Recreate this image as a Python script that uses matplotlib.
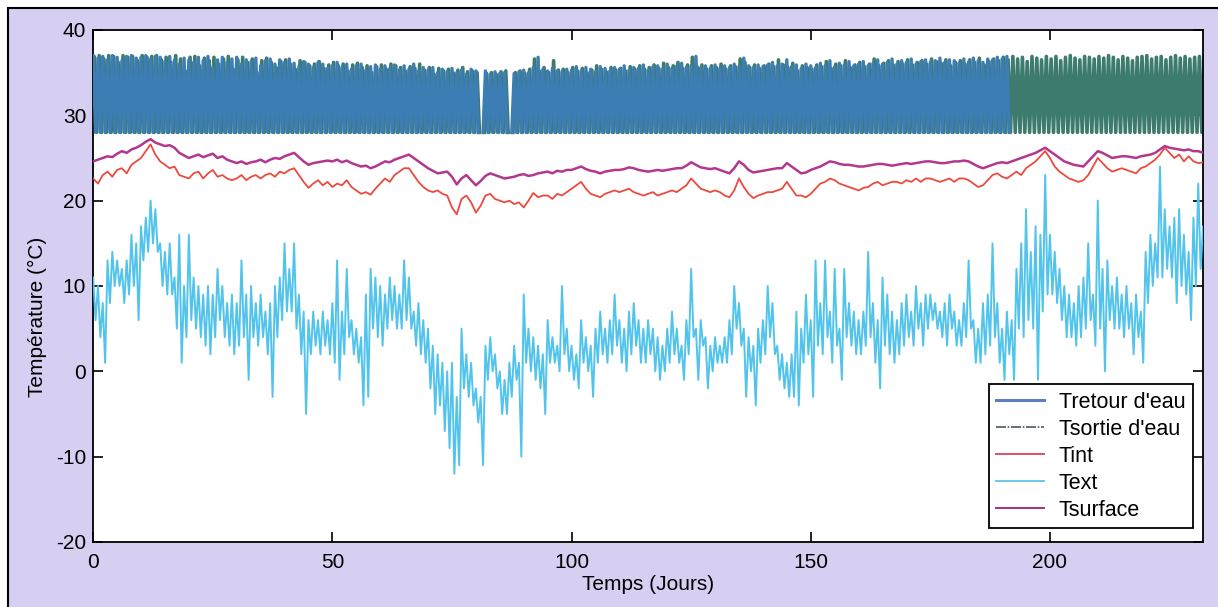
import numpy as np
import matplotlib
matplotlib.use("Agg")
import matplotlib.pyplot as plt
from matplotlib.patches import Rectangle

nan = np.nan

# daily maxima of the water temperature (the minimum sits on 28 degC)
tsortie_max = [
    36.8, 37.0, 36.6, 37.0, 36.9, 36.2, 37.0, 36.8, 36.9, 36.4,
    37.0, 36.8, 36.9, 37.0, 36.5, 36.8, 36.2, 37.0, 36.6, 35.2,
    36.8, 36.9, 35.8, 36.7, 36.4, 36.8, 36.0, 36.6, 36.9, 35.4,
    36.5, 36.8, 36.2, 36.6, 35.0, 36.4, 36.7, 36.2, 35.6, 36.3,
    36.5, 36.0, 35.4, 36.4, 36.2, 35.8, 36.0, 36.3, 35.5, 35.9,
    36.2, 35.8, 36.0, 35.2, 35.9, 36.1, 35.6, 35.8, 35.0, 35.7,
    35.9, 35.4, 36.0, 35.8, 35.6, 35.2, 35.7, 35.5, 36.0, 35.3,
    35.6, 34.8, 35.5, 35.2, 35.4, 35.0, 35.3, 35.6, 35.1, 35.2,
    35.0, nan, 34.9, 35.0, 34.8, 35.1, 35.2, nan, 35.0, 35.2,
    34.9, 35.4, 36.6, 35.2, 35.6, 35.0, 36.4, 35.3, 35.4, 35.0,
    35.6, 35.2, 35.5, 35.0, 35.3, 35.8, 35.4, 35.1, 35.6, 35.3,
    35.5, 35.2, 35.7, 35.4, 35.8, 35.4, 35.6, 35.9, 35.5, 36.1,
    35.6, 35.8, 36.2, 35.5, 35.9, 36.8, 35.7, 35.9, 35.4, 35.8,
    35.6, 36.0, 35.4, 35.8, 35.7, 36.6, 36.2, 35.6, 35.9, 35.5,
    35.8, 36.0, 35.7, 36.5, 35.9, 35.6, 36.1, 35.2, 35.8, 35.6,
    35.4, 35.9, 35.7, 36.3, 35.5, 36.0, 35.8, 36.4, 35.6, 35.9,
    36.2, 35.7, 36.0, 36.6, 35.8, 36.1, 36.4, 35.9, 36.3, 36.0,
    36.5, 35.9, 36.2, 36.4, 36.0, 36.6, 36.3, 36.1, 36.5, 35.8,
    36.2, 36.4, 36.0, 36.5, 36.2, 36.7, 35.9, 36.3, 36.6, 36.4,
    36.8, 36.5, 36.9, 36.6, 36.8, 36.3, 36.9, 36.7, 36.5, 36.9,
    36.6, 36.9, 36.4, 36.8, 37.0, 36.7, 36.5, 36.9, 36.8, 36.6,
    36.9, 36.7, 37.0, 36.8, 36.5, 36.9, 36.7, 36.4, 36.8, 36.9,
    37.0, 36.6, 36.8, 36.9, 36.5, 36.8, 37.0, 36.7, 36.9, 36.6,
    36.8, 36.9, 36.7,
]
tretour_max = [
    37.0, 36.7, 36.9, 36.5, 37.0, 36.8, 36.4, 36.9, 37.0, 36.7,
    36.8, 37.0, 36.6, 36.9, 36.8, 36.3, 36.9, 36.5, 36.0, 36.7,
    36.5, 36.2, 36.8, 36.4, 36.9, 35.6, 36.5, 36.8, 36.2, 36.6,
    36.8, 36.0, 36.5, 36.3, 36.7, 35.8, 36.4, 36.6, 36.0, 36.5,
    36.2, 36.6, 36.1, 35.7, 36.3, 36.0, 35.6, 36.2, 36.0, 35.5,
    35.8, 36.2, 35.6, 36.0, 35.4, 35.8, 36.0, 35.3, 35.7, 35.9,
    35.4, 35.8, 35.5, 35.9, 35.3, 35.8, 35.4, 36.0, 35.2, 35.6,
    35.3, 35.6, 35.0, 35.4, 35.1, 35.5, 35.0, 35.3, 34.8, 35.4,
    35.2, nan, 35.2, 34.8, 35.1, 34.9, 35.0, nan, 34.9, 35.1,
    35.3, 35.0, 35.6, 36.8, 35.4, 35.2, 35.5, 35.2, 35.1, 35.4,
    35.3, 35.7, 35.2, 35.6, 35.4, 35.1, 35.7, 35.5, 35.2, 35.6,
    35.4, 35.8, 35.3, 35.6, 35.5, 35.9, 35.3, 35.7, 35.8, 35.4,
    36.0, 35.5, 35.8, 36.1, 35.6, 35.8, 36.9, 35.6, 35.8, 35.5,
    35.9, 35.5, 35.8, 35.6, 36.0, 35.7, 36.7, 35.8, 35.6, 35.9,
    35.7, 35.9, 36.2, 35.8, 36.0, 36.5, 35.7, 35.9, 35.5, 36.0,
    35.8, 35.6, 36.1, 35.8, 36.4, 35.7, 36.1, 35.9, 36.3, 35.8,
    36.0, 36.3, 35.8, 36.1, 36.5, 36.0, 36.2, 36.6, 36.0, 36.4,
    36.2, 36.6, 36.0, 36.3, 36.5, 36.2, 36.4, 36.7, 36.2, 36.5,
    36.4, 36.1, 36.6, 36.3, 36.7, 36.4, 36.2, 36.6, 36.5, 36.8,
    36.6, 36.9,
]
eau_min = 28.0

tsurface = [
    24.6, 24.8, 25.0, 25.2, 25.1, 25.5, 25.8, 25.6, 26.0, 26.2,
    26.5, 26.9, 27.2, 26.8, 26.6, 26.4, 26.5, 26.2, 25.6, 25.3,
    25.0, 25.2, 25.4, 25.1, 25.3, 25.5, 25.0, 25.2, 24.8, 24.6,
    24.4, 24.6, 24.3, 24.5, 24.6, 24.8, 24.5, 24.8, 25.0, 24.9,
    25.2, 25.4, 25.6, 25.1, 24.6, 24.2, 24.4, 24.5, 24.6, 24.7,
    24.6, 24.8, 24.5, 24.7, 24.4, 24.2, 24.0, 24.1, 23.8, 24.0,
    24.3, 24.6, 24.5, 24.8, 25.0, 25.2, 25.4, 25.0, 24.6, 24.2,
    23.8, 23.5, 23.2, 23.3, 23.4, 22.8, 21.9, 22.6, 23.0, 22.4,
    21.8, 22.3, 22.9, 23.2, 23.0, 22.8, 22.6, 22.7, 22.8, 23.0,
    23.1, 22.9, 23.0, 23.2, 23.3, 23.4, 23.2, 23.5, 23.4, 23.6,
    23.6, 23.8, 24.0, 23.7, 23.5, 23.4, 23.2, 23.4, 23.5, 23.6,
    23.6, 23.7, 23.9, 23.8, 23.6, 23.5, 23.4, 23.5, 23.6, 23.5,
    23.6, 23.7, 23.8, 23.8, 24.1, 24.5, 24.2, 23.9, 23.8, 23.7,
    23.8, 23.6, 23.4, 23.2, 23.8, 24.6, 24.2, 23.6, 23.3, 23.4,
    23.5, 23.6, 23.7, 23.8, 23.8, 24.4, 24.0, 23.6, 23.2, 23.3,
    23.6, 23.8, 24.0, 24.3, 24.6, 24.5, 24.3, 24.2, 24.2, 24.1,
    24.0, 24.0, 24.1, 24.2, 24.3, 24.3, 24.2, 24.1, 24.2, 24.3,
    24.4, 24.3, 24.4, 24.5, 24.6, 24.6, 24.5, 24.4, 24.4, 24.5,
    24.6, 24.6, 24.7, 24.6, 24.3, 24.0, 23.8, 24.0, 24.2, 24.4,
    24.5, 24.4, 24.6, 24.8, 25.0, 25.2, 25.4, 25.6, 25.9, 26.2,
    25.8, 25.4, 25.0, 24.6, 24.4, 24.2, 24.1, 24.0, 24.6, 25.2,
    25.8, 25.6, 25.3, 25.0, 25.1, 25.2, 25.2, 25.1, 25.0, 25.2,
    25.3, 25.4, 25.6, 26.0, 26.4, 26.2, 26.1, 26.0, 25.9, 26.0,
    25.8, 25.8, 25.6,
]
tint = [
    22.6, 22.0, 23.0, 23.4, 22.8, 23.6, 23.8, 23.2, 24.2, 24.6,
    25.0, 25.8, 26.6, 25.4, 24.6, 24.2, 23.8, 24.0, 23.0, 22.8,
    22.6, 23.2, 23.4, 22.6, 23.2, 23.6, 22.8, 23.0, 22.6, 22.4,
    22.6, 23.0, 22.4, 22.8, 23.0, 22.6, 23.0, 23.2, 22.8, 23.4,
    23.2, 23.6, 23.8, 23.0, 22.2, 21.5, 22.0, 22.4, 21.8, 22.2,
    21.6, 22.0, 21.8, 22.4, 21.6, 21.2, 20.8, 21.0, 20.7, 21.4,
    22.0, 22.6, 22.2, 23.0, 23.4, 23.8, 23.8, 23.0, 22.2, 21.6,
    21.2, 21.0, 21.2, 20.8, 20.6, 19.2, 18.4, 20.2, 20.6, 19.8,
    18.6, 19.4, 20.6, 20.8, 20.2, 20.0, 19.8, 20.0, 19.6, 19.8,
    19.2, 20.0, 20.9, 20.4, 20.6, 20.6, 20.2, 20.8, 20.6, 21.0,
    21.4, 21.8, 22.2, 21.4, 20.8, 20.6, 20.4, 20.8, 21.0, 21.2,
    21.0, 21.2, 21.4, 21.0, 20.8, 20.6, 20.8, 21.0, 20.6, 20.8,
    21.0, 21.2, 21.0, 21.4, 21.8, 22.6, 22.0, 21.4, 21.2, 21.0,
    21.2, 21.0, 20.6, 20.4, 21.2, 22.6, 21.6, 20.8, 20.3, 20.6,
    20.8, 21.0, 21.0, 21.2, 21.4, 22.2, 21.4, 20.6, 20.6, 20.4,
    20.8, 21.4, 22.0, 22.2, 22.6, 22.4, 22.0, 21.8, 21.6, 21.4,
    21.2, 21.5, 21.6, 22.0, 22.2, 21.8, 22.0, 22.2, 22.2, 22.0,
    22.4, 22.2, 22.6, 22.2, 22.6, 22.6, 22.4, 22.2, 22.4, 22.6,
    22.2, 22.6, 22.6, 22.4, 22.0, 21.6, 21.8, 22.4, 23.0, 23.2,
    22.8, 22.6, 23.0, 23.4, 23.0, 23.8, 24.2, 24.6, 25.2, 25.8,
    25.0, 24.0, 23.4, 23.0, 22.6, 22.4, 22.2, 22.4, 23.0, 24.0,
    25.0, 24.4, 23.8, 23.4, 23.6, 23.8, 23.6, 23.4, 23.2, 23.8,
    24.0, 24.4, 24.8, 25.4, 26.2, 25.6, 25.0, 25.4, 24.6, 25.2,
    24.6, 24.4, 24.5,
]

# outdoor temperature: daily high / low
text_hi = [
    11, 10, 8, 13, 14, 13, 12, 13, 16, 15,
    17, 18, 20, 19, 15, 14, 15, 11, 16, 10,
    16, 11, 10, 9, 10, 9, 12, 10, 8, 9,
    8, 13, 9, 10, 8, 9, 7, 8, 10, 11,
    15, 12, 15, 9, 7, 6, 7, 6, 7, 6,
    8, 13, 7, 12, 6, 5, 4, 9, 12, 11,
    10, 9, 11, 10, 9, 13, 11, 7, 8, 6,
    5, 3, 2, 1, 0, 1, -3, 5, 2, 1,
    -2, -3, 3, 4, 2, 0, -1, 1, 3, 1,
    9, 5, 4, 3, 2, 6, 4, 3, 10, 5,
    3, 2, 6, 4, 3, 5, 7, 5, 6, 9,
    6, 5, 7, 8, 6, 5, 6, 5, 4, 3,
    5, 7, 5, 3, 6, 12, 5, 6, 4, 3,
    4, 3, 4, 6, 10, 8, 5, 4, 3, 5,
    6, 10, 8, 3, 2, 1, 2, 7, 5, 9,
    6, 13, 8, 13, 7, 12, 5, 12, 8, 7,
    6, 7, 14, 8, 6, 11, 9, 7, 6, 8,
    9, 7, 10, 8, 9, 9, 8, 7, 8, 9,
    7, 6, 8, 13, 6, 5, 8, 9, 15, 8,
    5, 7, 6, 12, 15, 19, 14, 17, 16, 23,
    16, 14, 12, 10, 9, 8, 10, 11, 15, 9,
    20, 12, 13, 10, 11, 9, 10, 8, 9, 7,
    14, 16, 15, 24, 19, 17, 18, 19, 16, 14,
    18, 22, 17,
]
text_lo = [
    6, 4, 1, 8, 10, 10, 8, 9, 10, 6,
    13, 14, 15, 14, 10, 9, 9, 5, 1, 4,
    6, 5, 4, 3, 2, 4, 6, 4, 3, 2,
    3, 4, -1, 4, 3, 4, 2, -3, 4, 6,
    7, 7, 5, 2, -5, 2, 3, 2, 3, 2,
    1, -1, 2, 4, 2, 1, -4, -3, 5, 4,
    3, 5, 6, 5, 5, 6, 5, 3, 2, 1,
    -2, -5, -4, -7, -9, -12, -11, -2, -3, -4,
    -6, -11, -1, 0, -2, -5, -5, -3, -1, -10,
    1, 0, -1, -2, -5, 1, 1, 0, 2, 0,
    -1, -2, 1, 0, -3, 1, 2, 1, 2, 3,
    1, 0, 2, 3, 1, 1, 2, 0, -1, 0,
    1, 2, 1, -1, 2, 4, -1, 3, -2, 0,
    1, 1, 1, 2, 5, 3, -3, 0, -4, 1,
    2, 4, 2, -1, -2, -3, -3, -4, 1, 2,
    -3, 3, 2, 4, 1, 3, -1, 4, 3, 2,
    2, 3, 4, 1, -2, 3, 2, 1, 2, 3,
    4, 3, 5, 3, 5, 6, 5, 4, 3, 5,
    3, 3, 4, 5, 1, 1, 2, 3, 4, 1,
    -1, 2, -1, 5, 4, 6, 5, -1, 7, 9,
    9, 8, 6, 4, 4, 3, 4, 5, 6, 3,
    5, 0, 6, 5, 5, 4, 5, 2, 4, 1,
    8, 10, 11, 11, 12, 11, 8, 10, 9, 6,
    10, 12, 11,
]

lavender = "#d6cff1"

def zigzag(hi, lo, shift):
    # one high and one low sample per day
    n = len(hi)
    t = np.empty(2 * n)
    y = np.empty(2 * n)
    t[0::2] = np.arange(n) + shift
    t[1::2] = np.arange(n) + shift + 0.5
    y[0::2] = hi
    y[1::2] = lo
    return t, y

plt.rcParams["font.family"] = ["Liberation Sans", "DejaVu Sans"]
plt.rcParams["axes.unicode_minus"] = False

fig = plt.figure(figsize=(12.18, 6.07), dpi=100, facecolor="white")
fig.patches.append(Rectangle((8 / 1218, -0.01), 1.02, 0.997, transform=fig.transFigure,
                             facecolor=lavender, edgecolor="black", linewidth=1.5, zorder=-10))
ax = fig.add_axes([0.0765, 0.1071, 0.9112, 0.8435])
ax.set_facecolor("white")

ts, ys = zigzag(tsortie_max, np.full(len(tsortie_max), eau_min), 0.25)
tr, yr = zigzag(tretour_max, np.full(len(tretour_max), eau_min), 0.0)
ti, yi = zigzag(text_hi, text_lo, 0.0)
days = np.arange(len(tint))

ax.plot(ts, ys, color="#3d7b6e", lw=2.6, zorder=2)
ax.plot(tr, yr, color="#3c7db4", lw=2.4, zorder=3)
ax.plot(days, tint, color="#ec4a3e", lw=1.3, zorder=4)
ax.plot(ti, yi, color="#52c4ec", lw=1.4, zorder=4)
ax.plot(days, tsurface, color="#b3378f", lw=1.8, zorder=5)

ax.set_xlim(0, 232)
ax.set_ylim(-20, 40)
ax.set_xticks([0, 50, 100, 150, 200])
ax.set_yticks([-20, -10, 0, 10, 20, 30, 40])
ax.tick_params(direction="in", length=7, width=1.2, top=True, right=True,
               labelsize=15)
ax.tick_params(axis="x", pad=8)
ax.tick_params(axis="y", pad=5)
for s in ax.spines.values():
    s.set_linewidth(1.3)

ax.set_xlabel("Temps (Jours)", fontsize=15, labelpad=2)
ax.set_ylabel("Température (°C)", fontsize=15)
ax.yaxis.set_label_coords(-0.042, 0.44)

h_retour = plt.Line2D([], [], color="#5b7fc2", lw=2.2)
h_sortie = plt.Line2D([], [], color="#4a5a60", lw=1.2, ls=(0, (6, 1, 1, 1)))
h_tint = plt.Line2D([], [], color="#e0506a", lw=1.4)
h_text = plt.Line2D([], [], color="#6cc8e6", lw=1.4)
h_surf = plt.Line2D([], [], color="#a8307e", lw=1.4)
leg = ax.legend([h_retour, h_sortie, h_tint, h_text, h_surf],
                ["Tretour d'eau", "Tsortie d'eau", "Tint", "Text", "Tsurface"],
                loc="lower right", bbox_to_anchor=(0.991, 0.027), borderaxespad=0,
                fontsize=15.5, frameon=True, fancybox=False, edgecolor="black",
                framealpha=1, handlelength=2.2, labelspacing=0.28, borderpad=0.35,
                handletextpad=0.7)
leg.get_frame().set_linewidth(1.3)
leg.set_zorder(10)

fig.savefig("out.png", dpi=100, facecolor=fig.get_facecolor())
